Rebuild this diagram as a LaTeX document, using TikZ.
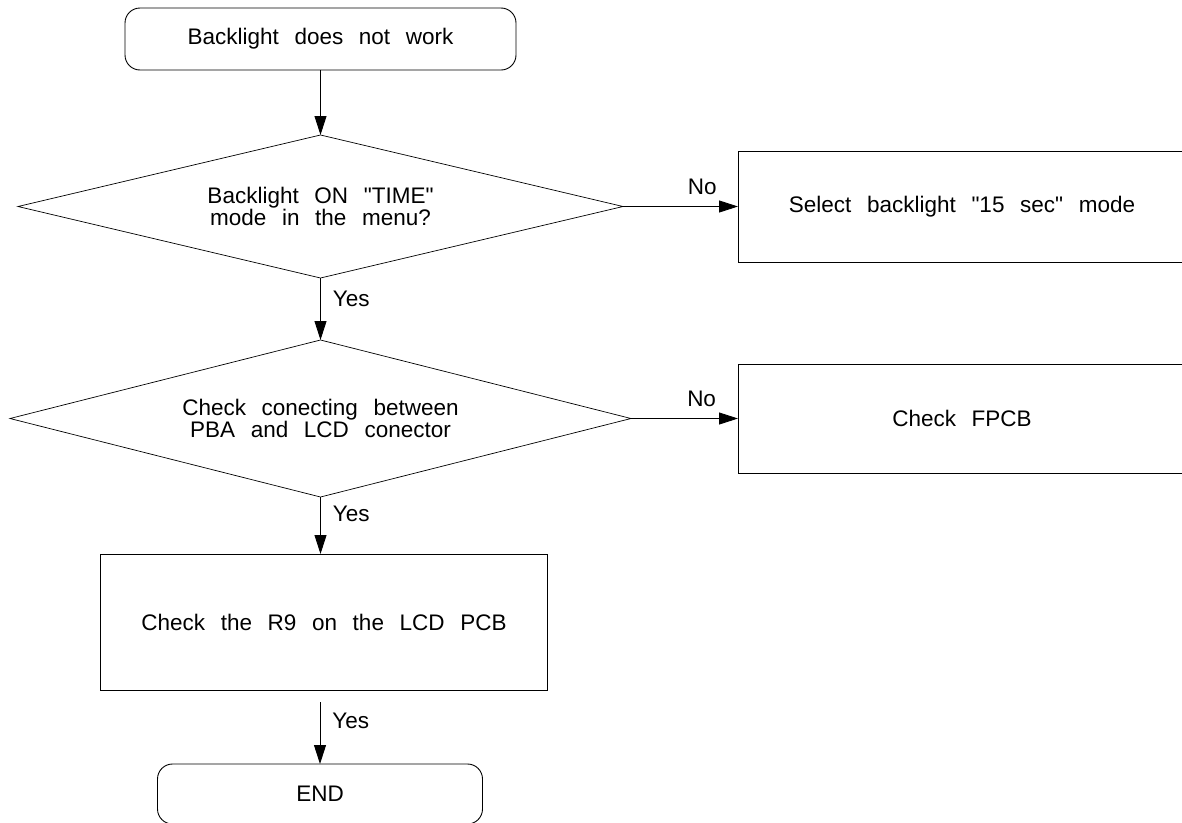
\documentclass[tikz,border=0pt]{standalone}
\usepackage{fontspec}
\setmainfont{Liberation Sans}[WordSpace=2.5, Ligatures=TeXOff]
\usetikzlibrary{arrows.meta, shapes.geometric, positioning}

\begin{document}
\begin{tikzpicture}[x=1pt, y=-1pt,
    every node/.style={font=\fontsize{22.5pt}{22.5pt}\selectfont},
    term/.style={rectangle, draw, rounded corners=15pt, line width=0.9pt,
                 inner sep=0pt, outer sep=0pt},
    cond/.style={diamond, draw, aspect=4.2, line width=0.7pt, align=center,
                 inner sep=0pt, outer sep=0pt},
    act/.style={rectangle, draw, line width=0.9pt, align=center,
                inner sep=0pt, outer sep=0pt},
    lbl/.style={inner sep=3pt},
    arr/.style={-{Triangle[length=19pt, width=12pt]}, line width=0.9pt}
  ]
  \useasboundingbox (0,0) rectangle (1182,822);

  \node[term, minimum width=391pt, minimum height=62pt] (start) at (320.5,39)
    {Backlight does not work};
  \node[cond, minimum width=605pt, minimum height=143pt, below=65pt of start]
    (chkmenu) {Backlight ON "TIME"\\ mode in the menu?};
  \node[act, minimum width=448pt, minimum height=111pt, right=115pt of chkmenu]
    (selmode) {Select backlight "15 sec" mode};
  \node[cond, minimum width=621pt, minimum height=157pt, below=62pt of chkmenu]
    (chkconn) {Check conecting between\\ PBA and LCD conector};
  \node[act, minimum width=448pt, minimum height=109pt, right=107pt of chkconn]
    (fpcb) {Check FPCB};
  \node[act, minimum width=447pt, minimum height=136pt, below=57pt of chkconn,
        xshift=3.5pt] (rnine) {Check the R9 on the LCD PCB};
  \node[term, minimum width=325pt, minimum height=60pt, below=74pt of rnine,
        xshift=-4pt] (finish) {END};

  \draw[arr] (start.south -| chkmenu.north) -- (chkmenu.north);
  \draw[arr] (chkmenu.east) -- node[lbl, pos=0.69, above=8pt] {No} (selmode.west);
  \draw[arr] (chkmenu.south) -- node[lbl, pos=0.34, right=9pt] {Yes} (chkconn.north);
  \draw[arr] (chkconn.east) -- node[lbl, pos=0.66, above=8pt] {No} (fpcb.west);
  \draw[arr] (chkconn.south) -- node[lbl, pos=0.30, right=9pt] {Yes}
    (chkconn.south |- rnine.north);
  % arrow to END starts a little below the box
  \draw[arr] ([yshift=-12pt]rnine.south -| finish.north) -- node[lbl, pos=0.30, right=9pt] {Yes}
    (finish.north);
\end{tikzpicture}
\end{document}
